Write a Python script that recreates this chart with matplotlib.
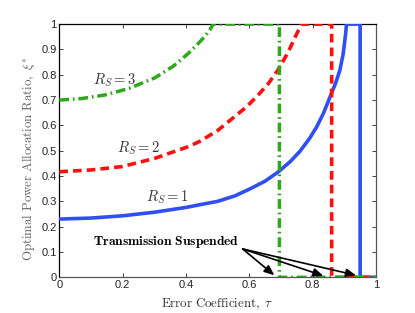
import numpy as np
import matplotlib
matplotlib.use("Agg")
import matplotlib.pyplot as plt

# ── data ──────────────────────────────────────────────────────────────────────
tau_r1 = [0.0, 0.10, 0.20, 0.30, 0.40, 0.445, 0.50, 0.555, 0.60, 0.65, 0.692, 0.73,
          0.76, 0.79, 0.813, 0.835, 0.855, 0.872, 0.886, 0.896, 0.904, 0.907,
          0.950, 0.950, 1.0]
xi_r1 = [0.230, 0.234, 0.243, 0.257, 0.276, 0.287, 0.300, 0.322, 0.348, 0.380, 0.417, 0.458,
         0.498, 0.548, 0.595, 0.650, 0.713, 0.765, 0.818, 0.880, 0.960, 1.0,
         1.0, 0.0, 0.0]

tau_r2 = [0.0, 0.10, 0.197, 0.302, 0.407, 0.444, 0.50, 0.549, 0.59, 0.623, 0.66,
          0.692, 0.723, 0.745, 0.765, 0.860, 0.860, 1.0]
xi_r2 = [0.417, 0.424, 0.437, 0.470, 0.516, 0.537, 0.580, 0.630, 0.672, 0.713, 0.765,
         0.822, 0.890, 0.950, 1.0, 1.0, 0.0, 0.0]

tau_r3 = [0.0, 0.07, 0.144, 0.22, 0.302, 0.36, 0.407, 0.44, 0.46, 0.475, 0.486,
          0.695, 0.695, 1.0]
xi_r3 = [0.700, 0.706, 0.720, 0.746, 0.788, 0.834, 0.884, 0.925, 0.952, 0.977, 1.0,
         1.0, 0.0, 0.0]

labels = [r"$R_S = 1$", r"$R_S = 2$", r"$R_S = 3$"]
label_pos = [(0.34, 0.318), (0.25, 0.51), (0.175, 0.78)]

arrow_tail = (0.579, 0.112)
arrow_heads = [(0.679, 0.008), (0.834, 0.006), (0.937, 0.008)]

BLUE, RED, GREEN = "#2f4ff5", "#ff1010", "#2ea81a"

plt.rcParams["mathtext.fontset"] = "cm"
plt.rcParams["font.family"] = ["Liberation Sans", "DejaVu Sans"]

fig = plt.figure(figsize=(4.15, 3.13), dpi=100)
ax = fig.add_axes([0.143, 0.114, 0.763, 0.809])

ax.plot(tau_r1, xi_r1, color=BLUE, lw=2.6, solid_joinstyle="miter", zorder=3)
ax.plot(tau_r2, xi_r2, color=RED, lw=2.6, dashes=(2.4, 1.4), zorder=3)
ax.plot(tau_r3, xi_r3, color=GREEN, lw=2.5, dashes=(2.8, 1.1, 0.5, 1.1), zorder=3)

for lab, (x, y) in zip(labels, label_pos):
    ax.text(x, y, lab, fontsize=10.5, color="#333333", ha="center", va="center")

ax.text(0.107, 0.14, r"$\mathbf{Transmission\ Suspended}$", fontsize=9.7,
        ha="left", va="center")
for hx, hy in arrow_heads:
    ax.annotate("", xy=(hx, hy), xytext=arrow_tail,
                arrowprops=dict(arrowstyle="-|>,head_length=0.6,head_width=0.25",
                                color="black", lw=1.2, shrinkA=0, shrinkB=0),
                zorder=4)

ax.set_xlim(0, 1)
ax.set_ylim(0, 1)
ax.set_xticks(np.arange(0, 1.01, 0.2))
ax.set_xticklabels(["0", "0.2", "0.4", "0.6", "0.8", "1"])
ax.set_yticks(np.arange(0, 1.01, 0.1))
ax.set_yticklabels(["0", "0.1", "0.2", "0.3", "0.4", "0.5", "0.6", "0.7", "0.8", "0.9", "1"])
ax.tick_params(direction="in", length=3, width=0.6, labelsize=8, top=True, right=True,
               pad=2, colors="#222222")
for side in ["left", "top"]:
    ax.spines[side].set_color("black")
for side in ["right", "bottom"]:
    ax.spines[side].set_color("#555555")
for sp in ax.spines.values():
    sp.set_linewidth(0.9)

ax.text(0.5, -0.078, r"$\mathrm{Error\ Coefficient,}\ \tau$", transform=ax.transAxes,
        fontsize=9.3, ha="center", va="top", color="#333333")
ax.text(-0.096, 0.47, r"$\mathrm{Optimal\ Power\ Allocation\ Ratio,}\ \xi^{*}$",
        transform=ax.transAxes, fontsize=9.3, ha="center", va="center",
        rotation=90, color="#666666")

fig.savefig("out.png", dpi=100)
